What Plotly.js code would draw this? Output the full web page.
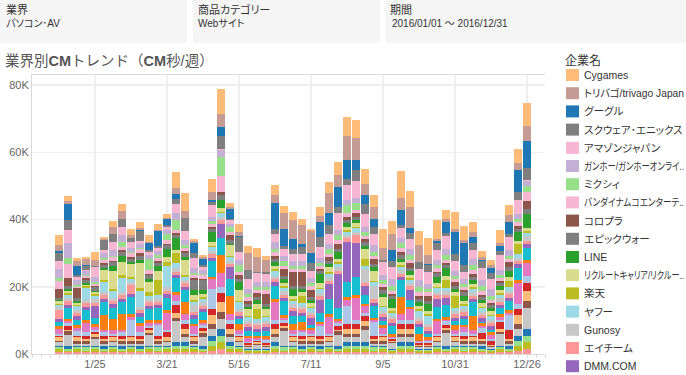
<!DOCTYPE html>
<html><head><meta charset="utf-8">
<script src="https://cdn.plot.ly/plotly-3.0.1.min.js"></script>
<style>html,body{margin:0;padding:0;background:#fff;}#chart{width:686px;height:375px;}
text{font-feature-settings:"palt" 1;}
text[data-unformatted^="業界別"]{font-feature-settings:normal;}</style>
</head><body><div id="chart"></div>
<script>
const weeks = ['2015-12-28','2016-01-04','2016-01-11','2016-01-18','2016-01-25','2016-02-01','2016-02-08','2016-02-15','2016-02-22','2016-02-29','2016-03-07','2016-03-14','2016-03-21','2016-03-28','2016-04-04','2016-04-11','2016-04-18','2016-04-25','2016-05-02','2016-05-09','2016-05-16','2016-05-23','2016-05-30','2016-06-06','2016-06-13','2016-06-20','2016-06-27','2016-07-04','2016-07-11','2016-07-18','2016-07-25','2016-08-01','2016-08-08','2016-08-15','2016-08-22','2016-08-29','2016-09-05','2016-09-12','2016-09-19','2016-09-26','2016-10-03','2016-10-10','2016-10-17','2016-10-24','2016-10-31','2016-11-07','2016-11-14','2016-11-21','2016-11-28','2016-12-05','2016-12-12','2016-12-19','2016-12-26'];
const tickDates = ['2016-01-25','2016-03-21','2016-05-16','2016-07-11','2016-09-05','2016-10-31','2016-12-26'];
const tickLabels = ['1/25','3/21','5/16','7/11','9/5','10/31','12/26'];
const yTickVals = [0, 20, 40, 60, 80];
const yTickLabels = ['0K', '20K', '40K', '60K', '80K'];

// values in thousands of CM seconds per week
const cygames = [3.0,1.5,0.8,0.6,2.3,0.5,1.8,2.1,1.8,1.9, 2.0,1.8,1.0,4.5,5.5,0.7,0.5,3.8,7.4,1.4, 2.5,2.2,2.5,1.0,3.0,2.0,2.5,1.8,0.6,2.5, 3.5,3.7,5.7,5.2,4.5,3.5,5.8,3.8,8.0,5.0, 4.2,5.2,5.5,2.5,4.8,4.3,2.8,1.7,1.5,4.0, 3.0,4.1,7.0];
const trivago = [1.7,0.8,1.4,1.7,1.7,0.3,2.0,2.2,1.0,0.5, 0.5,0.3,0.3,1.9,2.0,0.5,0.5,2.5,4.0,0.5, 1.0,5.0,4.5,3.7,2.5,4.8,5.5,5.5,6.5,2.0, 6.0,3.7,7.1,6.7,3.3,3.5,3.5,5.0,3.5,6.0, 5.0,2.5,0.8,1.0,1.0,1.0,1.5,0.8,0.8,0.8, 2.0,2.2,4.5];
const google = [0.6,4.8,2.8,0.5,0.0,0.0,0.0,0.0,0.0,0.3, 2.0,4.5,2.0,1.6,0.0,3.0,2.0,0.5,2.5,2.8, 0.3,0.0,0.0,0.0,7.5,5.0,3.0,1.0,3.0,4.5, 3.5,5.8,5.6,3.0,2.5,2.5,0.0,3.0,4.5,1.5, 0.0,0.5,0.5,3.2,6.5,6.5,2.0,0.5,1.5,1.5, 3.5,6.5,8.0];
const squareEnix = [2.4,3.0,0.5,1.0,0.5,3.0,2.5,2.5,1.0,3.0, 0.5,0.5,0.5,1.5,4.0,1.5,0.5,1.0,3.9,0.5, 4.5,2.5,0.5,0.5,1.5,1.0,1.5,2.0,2.5,3.0, 2.5,2.0,1.8,3.3,3.0,2.0,0.5,2.0,1.0,2.0, 2.0,2.0,2.0,1.0,2.0,2.0,2.0,2.0,2.0,1.0, 1.0,2.5,3.4];
const amazon = [2.3,4.0,1.0,0.5,3.0,1.0,2.5,2.5,2.0,1.0, 1.0,1.0,1.0,2.5,2.5,3.0,1.0,3.5,0.3,1.0, 2.5,3.0,2.5,2.5,2.5,2.0,2.0,2.0,2.0,3.0, 3.0,5.0,4.5,5.0,4.0,3.5,4.0,3.5,3.0,3.0, 3.5,3.5,3.0,4.0,3.0,2.0,2.5,3.5,3.0,4.5, 4.0,4.0,0.3];
const gungho = [2.8,4.4,1.5,1.0,1.5,1.5,1.5,2.0,1.0,1.0, 1.0,1.0,1.0,2.0,1.5,1.5,1.0,1.0,2.2,1.0, 1.5,1.5,1.5,1.5,2.0,1.5,1.5,1.5,1.5,1.5, 1.5,1.5,1.5,1.5,1.5,2.0,1.5,2.0,1.5,1.5, 2.0,1.5,1.5,1.5,1.5,1.5,2.0,2.0,2.0,1.5, 1.5,1.5,1.5];
const mixi = [1.0,1.8,0.5,0.5,0.5,0.5,0.5,1.5,0.5,0.5, 3.5,1.0,2.0,3.0,1.0,0.5,0.5,1.0,5.5,1.5, 2.0,1.0,1.0,1.0,1.0,1.5,1.0,1.0,1.0,1.0, 1.5,1.5,2.5,2.0,1.0,1.0,1.0,1.5,1.5,1.5, 1.5,1.0,1.0,1.5,1.0,1.0,1.5,1.5,1.0,1.0, 1.0,1.0,2.0];
const bandai = [2.3,4.0,0.5,0.5,0.5,1.0,1.0,1.0,1.0,1.0, 1.0,1.0,1.0,1.0,1.0,1.0,1.0,1.0,4.7,1.0, 1.0,1.0,1.0,1.0,1.0,1.0,1.0,1.0,1.0,1.0, 1.0,1.0,1.0,1.0,1.0,1.0,1.0,1.0,1.0,1.0, 1.0,1.0,1.0,1.0,1.0,1.0,1.0,1.0,1.0,1.0, 1.0,1.0,2.5];
const colopl = [2.5,2.5,2.8,0.5,0.5,0.5,0.5,0.5,0.5,1.0, 0.5,0.5,0.5,0.5,0.5,0.5,0.5,0.5,1.0,1.5, 1.0,1.0,1.0,3.0,1.0,2.0,4.0,4.0,2.0,0.5, 1.0,1.5,1.0,1.0,1.0,1.5,1.0,0.5,1.0,1.5, 1.0,1.5,0.5,0.5,1.0,0.5,1.0,0.5,0.5,0.5, 1.5,1.0,2.5];
const epicWar = [0.7,1.0,1.0,1.0,1.0,1.0,1.0,1.0,1.0,1.0, 1.0,1.0,1.0,1.0,1.0,3.0,3.0,1.0,1.5,1.0, 1.0,1.0,1.0,1.0,1.0,1.0,1.0,1.0,1.0,1.0, 1.0,1.0,1.0,1.0,1.0,1.0,1.0,1.0,1.0,1.0, 1.0,1.0,1.0,1.0,1.0,1.0,1.0,1.0,1.0,1.0, 1.0,1.0,1.5];
const line = [0.3,0.5,0.5,0.5,0.5,0.5,1.5,1.8,0.5,1.0, 1.0,1.5,2.5,3.5,1.0,1.5,1.0,3.0,2.5,0.5, 2.5,0.5,1.0,0.5,1.0,1.0,2.0,1.0,1.0,2.5, 1.0,2.0,1.0,1.0,1.0,1.0,1.0,2.5,1.0,1.0, 1.0,2.0,2.0,2.5,1.0,1.5,1.0,1.0,1.0,1.0, 2.0,2.5,4.0];
const recruit = [0.8,0.5,0.5,0.5,0.5,3.0,5.5,4.0,4.0,7.5, 3.0,2.5,1.5,1.0,4.5,1.5,1.0,1.0,1.0,3.0, 3.0,2.0,1.5,2.0,1.0,1.0,1.0,1.0,1.0,1.5, 1.5,1.0,1.0,1.0,3.0,3.0,2.5,1.0,1.0,1.0, 1.0,1.0,1.0,1.0,1.0,1.0,1.0,1.0,1.0,1.0, 1.0,1.0,1.0];
const rakuten = [0.5,0.5,0.5,0.5,0.5,0.5,0.5,1.0,0.5,1.0, 1.0,4.5,1.0,3.0,0.5,0.5,0.5,0.5,0.5,0.5, 0.5,0.5,3.0,0.5,0.5,0.5,0.5,2.0,0.5,0.5, 0.5,0.5,0.5,0.5,2.0,0.5,0.5,0.5,0.5,0.5, 0.5,0.5,0.5,2.5,3.5,0.5,0.5,0.5,0.5,0.5, 2.0,3.0,0.5];
const yahoo = [0.5,1.0,1.0,3.5,1.0,3.0,2.0,4.0,1.0,4.5, 1.0,1.0,6.5,1.5,1.0,1.0,1.0,1.0,1.0,1.0, 2.0,1.0,1.0,1.0,1.5,1.0,1.0,1.0,1.0,1.0, 1.0,1.0,1.0,1.0,1.0,1.0,1.0,1.0,1.0,1.0, 2.0,2.5,1.0,1.0,1.0,1.0,1.0,1.0,1.0,1.0, 1.0,1.0,1.0];
const gunosy = [1.0,1.0,1.0,1.0,1.0,1.0,1.0,1.0,1.0,1.0, 1.0,1.0,1.0,1.0,1.0,2.0,1.0,1.0,1.0,1.0, 1.0,1.0,1.0,1.0,1.0,1.0,1.0,1.0,1.0,1.0, 1.0,1.0,1.0,1.0,4.0,4.0,1.0,1.0,1.0,1.0, 1.0,1.0,1.0,1.0,1.0,1.0,1.0,1.0,1.0,1.0, 1.0,1.0,1.5];
const aCham = [2.5,1.0,1.0,1.0,1.0,1.0,1.0,1.0,2.5,1.0, 1.0,1.0,1.0,1.0,1.0,1.0,1.0,1.0,1.0,1.0, 1.0,1.0,1.0,1.0,1.0,1.0,1.0,1.0,1.0,1.0, 1.0,1.0,1.0,2.5,1.0,1.0,1.0,1.0,1.0,1.0, 1.0,1.0,1.0,1.0,1.0,1.0,1.0,1.0,1.0,1.0, 1.0,1.0,1.0];
const dmm = [1.0,1.0,1.0,1.0,3.5,1.0,1.0,1.0,1.0,1.0, 1.0,1.0,1.0,1.0,1.0,1.0,1.0,1.0,4.3,3.5, 1.0,1.0,1.0,1.0,1.0,1.0,1.5,1.0,2.0,4.0, 4.5,10.0,12.0,10.0,2.5,1.0,1.0,1.0,1.0,3.0, 1.0,1.0,2.5,2.0,1.0,1.0,1.0,1.0,1.0,1.0, 1.0,1.0,1.0];
// smaller advertisers below the legend cut-off
const other1 = [1.2,3.2,1.7,3.0,2.0,4.0,3.3,3.5,5.0,2.0, 3.4,3.6,3.8,4.0,3.5,1.5,2.4,4.7,5.0,5.0, 1.4,1.4,1.0,1.5,4.0,4.2,2.3,1.8,0.8,2.6, 4.5,3.3,4.4,5.4,2.7,3.5,1.4,2.3,4.9,2.0, 1.9,0.9,3.5,3.6,1.3,1.7,4.0,0.5,0.8,1.8, 2.8,3.7,3.6];
const other2 = [0.8,0.8,0.8,0.8,0.8,4.5,3.5,5.0,0.8,0.8, 0.8,0.8,0.8,0.8,3.5,0.8,0.8,0.8,5.5,5.3, 2.0,0.8,0.8,0.8,0.8,0.8,2.0,2.5,0.8,0.8, 0.8,0.8,0.8,0.8,0.8,0.8,0.8,0.8,5.0,0.8, 2.0,0.8,0.8,0.8,1.5,0.8,4.4,0.8,0.8,0.8, 0.8,0.8,0.8];
const other3 = [1.5,0.5,1.0,2.8,1.0,0.5,1.0,0.5,1.0,1.8, 1.0,0.5,5.2,2.0,2.0,2.2,0.5,3.0,4.0,2.0, 1.0,1.1,0.4,0.4,5.5,0.5,1.0,0.5,1.0,0.5, 5.0,0.5,2.0,6.7,2.0,0.5,1.7,0.4,2.0,3.3, 0.4,0.4,3.7,0.5,1.0,1.4,1.0,0.5,1.2,1.0, 0.5,6.2,4.0];
const other4 = [0.5,1.0,1.2,1.0,0.5,1.0,0.5,1.0,4.6,1.0, 0.5,3.2,0.5,1.0,1.0,0.5,1.0,5.7,2.0,1.0, 0.5,0.4,0.4,1.0,1.0,1.0,0.5,1.0,0.5,2.8, 0.5,1.0,5.2,1.0,1.0,4.0,0.5,0.4,1.0,1.0, 0.4,0.6,0.5,1.0,0.5,1.0,0.5,1.5,0.4,0.5, 4.7,1.5,2.0];
const other5 = [0.5,1.0,0.5,1.0,0.5,1.0,0.5,1.0,0.5,1.0, 0.5,1.0,1.5,2.5,1.5,0.5,1.0,2.0,2.5,1.5, 0.5,0.4,0.4,0.4,1.5,1.0,0.5,1.0,0.5,1.0, 0.5,1.0,1.5,1.5,1.5,1.0,0.5,0.4,1.5,1.5, 0.4,0.4,0.5,1.0,0.5,1.0,0.5,1.8,1.2,2.0, 2.5,2.0,2.5];
const other6 = [1.0,0.5,1.0,0.5,1.0,0.5,1.0,0.5,1.0,0.5, 1.0,0.5,1.0,1.5,1.5,1.0,0.5,2.5,3.0,1.5, 1.0,0.4,0.4,0.4,1.5,0.5,1.0,0.5,1.0,0.5, 1.0,0.5,1.5,1.5,1.5,0.5,1.0,0.4,1.5,1.5, 0.4,0.4,1.0,0.5,1.0,0.5,1.0,0.5,0.4,1.0, 0.5,2.5,3.0];
const other7 = [0.5,1.0,1.0,1.0,0.5,1.0,0.5,1.0,1.0,1.0, 0.5,1.0,0.5,1.0,1.0,1.0,1.0,1.5,2.0,1.0, 0.5,0.4,0.4,0.4,1.0,1.0,0.5,1.0,1.0,1.0, 0.5,1.0,1.0,1.0,1.0,1.0,1.0,0.4,1.0,1.0, 0.4,0.4,0.5,1.0,0.5,1.0,1.0,1.0,0.4,0.5, 1.0,1.5,2.0];
const other8 = [1.0,3.2,0.5,0.5,2.0,0.5,1.0,0.5,0.5,0.5, 3.2,0.5,1.0,6.2,1.5,0.5,2.7,2.0,3.0,1.5, 1.0,0.4,1.1,0.4,1.5,4.2,1.0,0.5,0.5,0.5, 1.0,3.2,1.5,1.5,3.7,0.5,0.5,1.6,1.5,1.5, 0.4,0.4,1.0,3.7,1.0,0.5,0.5,0.5,0.4,3.5, 0.5,2.0,6.2];
const other9 = [0.5,1.0,0.5,0.5,0.5,1.0,0.5,1.0,0.5,1.0, 0.5,0.5,0.5,1.0,1.0,0.5,1.0,1.5,2.0,1.0, 0.5,0.4,0.4,0.4,1.0,0.5,0.5,1.0,0.5,1.0, 0.5,1.0,1.0,1.0,1.0,0.5,0.5,0.4,1.0,1.0, 0.4,0.4,0.5,1.0,0.5,0.5,0.5,1.0,0.4,0.5, 1.0,1.5,2.0];
const other10 = [0.5,0.5,0.5,1.0,0.5,0.5,0.5,0.5,0.5,0.5, 0.5,1.0,0.5,1.0,1.0,0.5,0.5,1.5,2.0,1.0, 0.5,0.4,0.4,0.4,1.0,1.0,0.5,0.5,0.5,0.5, 0.5,0.5,1.0,1.0,1.0,1.0,0.5,0.4,1.0,1.0, 0.4,0.4,0.5,0.5,0.5,1.0,0.5,0.5,0.4,0.5, 0.5,1.5,2.0];
const other11 = [1.0,0.5,1.0,0.5,1.0,0.5,1.0,0.5,1.0,0.5, 1.0,0.5,1.0,1.0,1.0,1.0,0.5,1.5,2.0,1.0, 1.0,0.4,0.4,0.4,1.0,0.5,1.0,0.5,1.0,0.5, 1.0,0.5,1.0,1.0,1.0,0.5,1.0,0.4,1.0,1.0, 0.4,0.4,1.0,0.5,1.0,0.5,1.0,0.5,0.4,1.0, 0.5,1.5,2.0];
const other12 = [0.5,0.5,0.5,0.5,0.5,0.5,0.5,0.5,0.5,0.5, 0.5,0.5,0.5,0.5,0.5,0.5,0.5,1.0,1.5,0.5, 0.5,0.4,0.4,0.4,0.5,0.5,0.5,0.5,0.5,0.5, 0.5,0.5,0.5,0.5,0.5,0.5,0.5,0.4,0.5,0.5, 0.4,0.4,0.5,0.5,0.5,0.5,0.5,0.5,0.4,0.5, 0.5,1.0,1.5];

// stack order: bottom -> top  [name, values, colour, shown in legend]
const series = [
  ['その他12', other12, '#ff9896', false],
  ['その他11', other11, '#bcbd22', false],
  ['その他10', other10, '#98df8a', false],
  ['その他9', other9, '#1f77b4', false],
  ['その他8', other8, '#c7c7c7', false],
  ['その他7', other7, '#8c564b', false],
  ['その他6', other6, '#ffbb78', false],
  ['その他5', other5, '#d62728', false],
  ['その他4', other4, '#aec7e8', false],
  ['その他3', other3, '#e377c2', false],
  ['その他2', other2, '#ff7f0e', false],
  ['その他1', other1, '#17becf', false],
  ['DMM.COM', dmm, '#9467bd', true],
  ['エイチーム', aCham, '#ff9896', true],
  ['Gunosy', gunosy, '#c7c7c7', true],
  ['ヤフー', yahoo, '#9edae5', true],
  ['楽天', rakuten, '#bcbd22', true],
  ['リクルートキャリア/リクルー..', recruit, '#dbdb8d', true],
  ['LINE', line, '#2ca02c', true],
  ['エピックウォー', epicWar, '#7f7f7f', true],
  ['コロプラ', colopl, '#8c564b', true],
  ['バンダイナムコエンターテ..', bandai, '#f7b6d2', true],
  ['ミクシィ', mixi, '#98df8a', true],
  ['ガンホー/ガンホーオンライ..', gungho, '#c5b0d5', true],
  ['アマゾンジャパン', amazon, '#f7b6d2', true],
  ['スクウェア･エニックス', squareEnix, '#7f7f7f', true],
  ['グーグル', google, '#1f77b4', true],
  ['トリバゴ/trivago Japan', trivago, '#c49c94', true],
  ['Cygames', cygames, '#ffbb78', true]
];

const FONT = 'Liberation Sans, "Noto Sans CJK JP", sans-serif';
const traces = series.map(s => ({
  type: 'bar', name: s[0], x: weeks, y: s[1], showlegend: false,
  marker: {color: s[2], line: {width: 0}}, hoverinfo: 'name+y'
}));

// plot area in pixels: x 32..545, y 75..354
const X = px => (px - 32) / 513;
const Y = py => (354 - py) / 279;

const shapes = [[0,187],[193,380],[386,686]].map(b => ({
  type: 'rect', xref: 'paper', yref: 'paper', x0: X(b[0]), x1: X(b[1]), y0: Y(43), y1: Y(0),
  fillcolor: '#f5f5f5', line: {width: 0}, layer: 'below'
}));
const hdr = (px, py, text, size) => ({xref:'paper', yref:'paper', x: X(px), y: Y(py), xanchor:'left', yanchor:'middle',
  text: text, showarrow: false, font: {family: FONT, size: size, color: '#333'}});

const annotations = [
  hdr(4, 10, '業界', 11), hdr(4, 23, 'パソコン･AV', 10),
  hdr(196, 10, '商品カテゴリー', 11), hdr(196, 23, 'Webサイト', 10),
  hdr(388, 10, '期間', 11), hdr(390, 23, '2016/01/01 ～ 2016/12/31', 10),
  {xref:'paper', yref:'paper', x: X(3), y: Y(61), xanchor:'left', yanchor:'middle', showarrow:false,
   text: '業界別<b>CM</b>トレンド（<b>CM</b>秒/週）', font: {family: FONT, size: 14.5, color: '#555'}},
  hdr(563, 60, '企業名', 12)
];

// legend (Tableau style, clipped list): top of stack first
const legendItems = series.filter(s => s[3]).reverse();
const legendNames = legendItems.map(s => s[0]);
legendItems.forEach((s, k) => {
  const yc = 75 + 18.2 * k;
  shapes.push({type: 'rect', xref: 'paper', yref: 'paper', x0: X(566), x1: X(579), y0: Y(yc + 6), y1: Y(yc - 6),
    fillcolor: s[2], line: {width: 0}});
  annotations.push({xref: 'paper', yref: 'paper', x: X(582), y: Y(yc), xanchor: 'left', yanchor: 'middle',
    text: s[0], showarrow: false, font: {family: FONT, size: 10.5, color: '#333'}});
});

const layout = {
  width: 686, height: 375,
  margin: {l: 32, r: 141, t: 75, b: 21, autoexpand: false},
  paper_bgcolor: '#fff', plot_bgcolor: '#fff',
  barmode: 'stack', bargap: 0.12, showlegend: false,
  font: {family: FONT, color: '#555'},
  xaxis: {
    type: 'date', range: ['2015-12-07', '2017-01-09'],
    tickmode: 'array', tickvals: tickDates, ticktext: tickLabels,
    tickfont: {size: 11, color: '#666'},
    showgrid: true, gridcolor: '#efefef', gridwidth: 1.5,
    showline: true, linecolor: '#d9d9d9', linewidth: 1, mirror: true,
    ticks: '', zeroline: false, automargin: false,
    minor: {dtick: 7*86400000, tick0: '2015-12-28', ticks: 'outside', ticklen: 3, tickcolor: '#dcdcdc', showgrid: false}
  },
  yaxis: {
    range: [0, 83], tickmode: 'array', tickvals: yTickVals, ticktext: yTickLabels,
    tickfont: {size: 11, color: '#666'},
    showgrid: true, gridcolor: '#efefef', gridwidth: 1.5,
    showline: true, linecolor: '#d9d9d9', linewidth: 1,
    zeroline: false, ticks: '', automargin: false
  },
  shapes: shapes,
  annotations: annotations
};

Plotly.newPlot('chart', traces, layout, {displayModeBar: false, staticPlot: true}).then(gd => {
  // Tableau condenses long legend labels to fit the pane: fit them within 100px
  const MAXW = 100;
  gd.querySelectorAll('text.annotation-text').forEach(t => {
    if (!legendNames.includes(t.getAttribute('data-unformatted'))) return;
    const bb = t.getBBox();
    if (bb.width > MAXW) {
      t.setAttribute('text-anchor', 'start');
      t.setAttribute('x', bb.x);
      t.setAttribute('textLength', MAXW);
      t.setAttribute('lengthAdjust', 'spacingAndGlyphs');
      const bg = t.parentNode.querySelector('rect.bg');
      if (bg) { bg.setAttribute('x', bb.x - 1); bg.setAttribute('width', MAXW + 2); }
    }
  });
});
</script>
</body></html>
